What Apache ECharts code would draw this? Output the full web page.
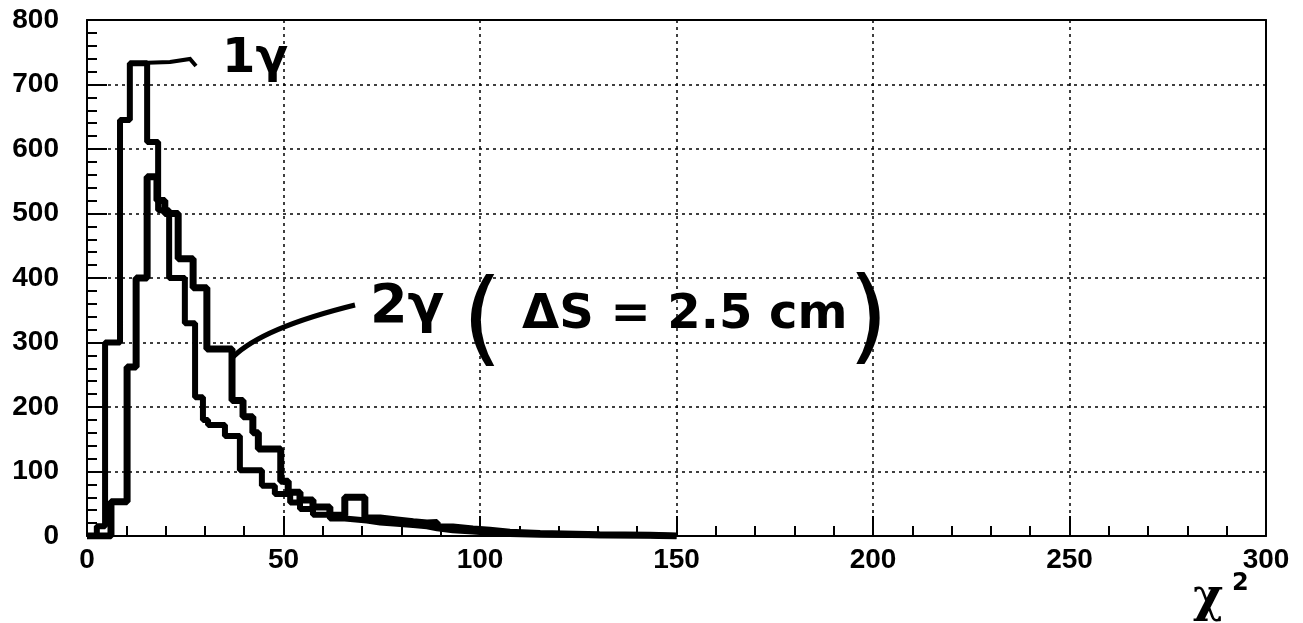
<!DOCTYPE html>
<html><head><meta charset="utf-8">
<script src="https://cdn.jsdelivr.net/npm/echarts@6/dist/echarts.min.js"></script>
<style>html,body{margin:0;padding:0;background:#fff}#c{width:1303px;height:623px}</style>
</head><body><div id="c"></div>
<script>
// X axis range / ticks
const xTickLabels = [0, 50, 100, 150, 200, 250, 300];
const yTickLabels = [0, 100, 200, 300, 400, 500, 600, 700, 800];

// 1 gamma histogram: bin edges (chi^2) and counts per bin
const edges1 = [0, 2.5, 4.6, 8.4, 10.9, 15.3, 18.1, 20.9, 24.9, 27.5, 29.5, 30.8, 35.1, 38.9, 44.5, 47.8, 51.7, 54.2, 57.5, 61.8, 65.6, 71.2, 74.6, 78.9, 83, 86.5, 89.1, 93.1, 98.2, 102.5, 107.6, 115.3, 130.5, 143.3, 150];
const counts1 = [0, 15, 300, 645, 733, 611, 505, 400, 330, 215, 180, 172, 155, 102, 78, 65, 52, 42, 33, 27, 24, 21, 19, 17, 15, 12, 9, 7, 5, 3, 2, 1, 1, 0];

// 2 gamma (dS = 2.5 cm) histogram
const edges2 = [0, 6.1, 10.2, 12.5, 15.3, 17.8, 19.8, 23.2, 27, 30.5, 36.9, 39.7, 42.2, 43.6, 49.3, 51.2, 54.2, 57.5, 61.8, 65.6, 70.7, 74.6, 78.9, 83, 86.5, 89.1, 93.1, 98.2, 102.5, 107.6, 115.3, 130.5, 143.3, 150];
const counts2 = [0, 53, 262, 400, 557, 520, 500, 430, 385, 290, 210, 185, 160, 135, 85, 68, 56, 45, 32, 60, 28, 25, 22, 20, 21, 14, 11, 9, 6, 4, 2, 1, 0];

function stepPoints(edges, counts) {
  return edges.map((e, i) => [e, counts[Math.min(i, counts.length - 1)]]);
}

const chart = echarts.init(document.getElementById('c'), null, {renderer: 'canvas'});
const labelFont = {fontSize: 28, fontWeight: 'bold', color: '#000', fontFamily: '"Liberation Sans", Arial, sans-serif'};
const dotted = {type: [3, 4], color: '#000', width: 1.5};

chart.setOption({
  backgroundColor: '#fff',
  animation: false,
  grid: {left: 87, right: 37, top: 20, bottom: 87, containLabel: false},
  xAxis: [{
    type: 'value', min: xTickLabels[0], max: xTickLabels[xTickLabels.length - 1], interval: 50,
    axisLine: {show: true, onZero: false, lineStyle: {color: '#000', width: 2}},
    axisTick: {show: true, inside: true, length: 20, lineStyle: {color: '#000', width: 2}},
    minorTick: {show: true, splitNumber: 5, length: 10, lineStyle: {color: '#000', width: 2}},
    axisLabel: Object.assign({margin: 10}, labelFont),
    splitLine: {show: true, lineStyle: dotted}
  }, {
    type: 'value', position: 'top', min: 0, max: 300,
    axisLine: {show: true, onZero: false, lineStyle: {color: '#000', width: 2}},
    axisTick: {show: false}, axisLabel: {show: false}, splitLine: {show: false}
  }],
  yAxis: [{
    type: 'value', min: yTickLabels[0], max: yTickLabels[yTickLabels.length - 1], interval: 100,
    axisLine: {show: true, onZero: false, lineStyle: {color: '#000', width: 2}},
    axisTick: {show: true, inside: true, length: 20, lineStyle: {color: '#000', width: 2}},
    minorTick: {show: true, splitNumber: 5, length: 10, lineStyle: {color: '#000', width: 2}},
    axisLabel: Object.assign({margin: 28}, labelFont),
    splitLine: {show: true, lineStyle: dotted}
  }, {
    type: 'value', position: 'right', min: 0, max: 800,
    axisLine: {show: true, onZero: false, lineStyle: {color: '#000', width: 2}},
    axisTick: {show: false}, axisLabel: {show: false}, splitLine: {show: false}
  }],
  series: [{
    name: '1γ', type: 'line', step: 'end', showSymbol: false, symbol: 'none',
    data: stepPoints(edges1, counts1),
    lineStyle: {color: '#000', width: 6}, z: 5
  }, {
    name: '2γ', type: 'line', step: 'end', showSymbol: false, symbol: 'none',
    data: stepPoints(edges2, counts2),
    lineStyle: {color: '#000', width: 7}, z: 6
  }],
  graphic: [
    {type: 'text', x: 222, y: 36, style: {text: '1γ', font: 'bold 48px "DejaVu Sans"', fill: '#000', align: 'left', verticalAlign: 'top'}},
    {type: 'polyline', shape: {points: [[140, 63], [170, 62], [190, 59], [196, 66]]}, style: {stroke: '#000', lineWidth: 4, fill: null}},
    {type: 'bezierCurve', shape: {x1: 233, y1: 357, cpx1: 262, cpy1: 328, x2: 355, y2: 305}, style: {stroke: '#000', lineWidth: 5, fill: null}},
    {type: 'text', x: 370, y: 281, style: {text: '2γ', font: 'bold 54px "DejaVu Sans"', fill: '#000', align: 'left', verticalAlign: 'top'}},
    {type: 'text', x: 462, y: 274, style: {text: '(', font: '104px "DejaVu Sans"', fill: '#000', align: 'left', verticalAlign: 'top'}},
    {type: 'text', x: 522, y: 292, style: {text: 'ΔS = 2.5 cm', font: 'bold 48px "DejaVu Sans"', fill: '#000', align: 'left', verticalAlign: 'top'}},
    {type: 'text', x: 848, y: 272, style: {text: ')', font: '104px "DejaVu Sans"', fill: '#000', align: 'left', verticalAlign: 'top'}},
    {type: 'text', x: 1193, y: 576, style: {text: 'χ', font: 'bold 46px "DejaVu Serif"', fill: '#000', align: 'left', verticalAlign: 'top'}},
    {type: 'text', x: 1232, y: 572, style: {text: '2', font: 'bold 24px "DejaVu Sans"', fill: '#000', align: 'left', verticalAlign: 'top'}}
  ]
});
</script>
</body></html>
